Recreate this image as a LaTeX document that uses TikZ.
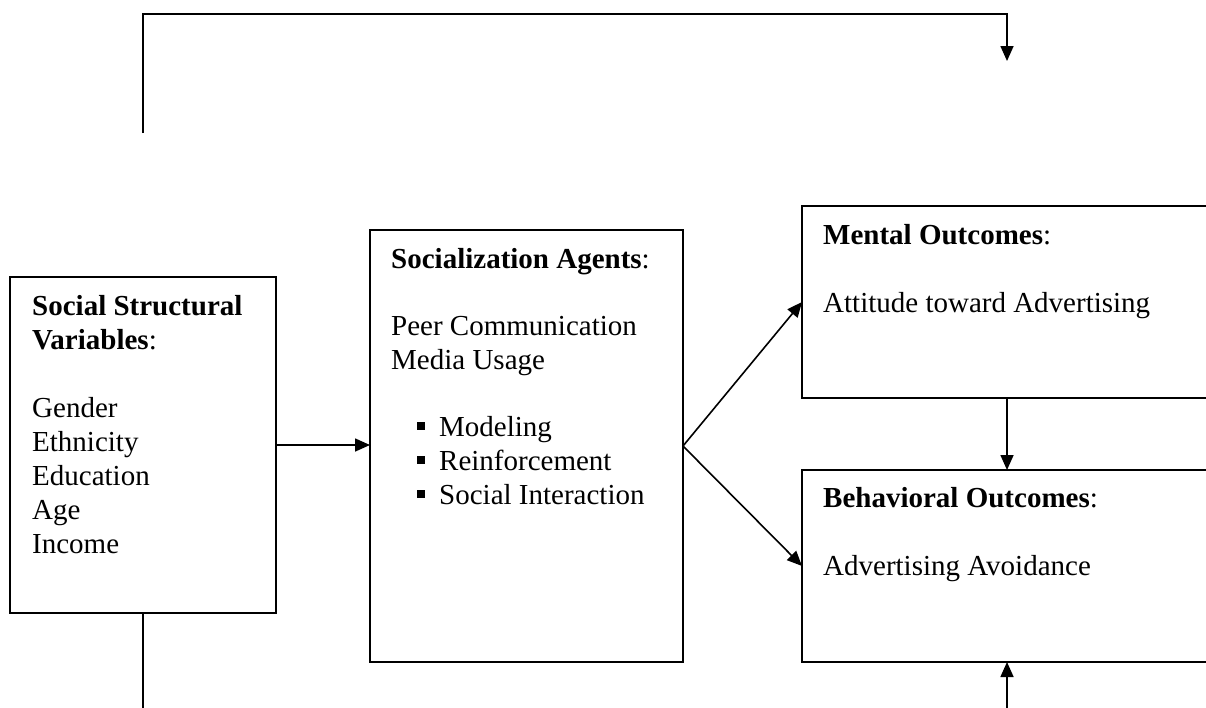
\documentclass[tikz,border=0pt]{standalone}
\usepackage{fontspec}
\setmainfont{Liberation Serif}
\usetikzlibrary{arrows.meta}
\begin{document}
\begin{tikzpicture}[x=1pt,y=-1pt,
  box/.style={draw,line width=1.6pt,anchor=north west,inner sep=0pt,outer sep=0pt},
  txt/.style={anchor=base west,inner sep=0pt,font=\fontsize{29}{34}\selectfont},
  ln/.style={line width=1.6pt},
  arr/.style={line width=1.6pt,-{Triangle[length=15pt,width=13pt]}}]
\useasboundingbox (0,0) rectangle (1206,707);
\clip (0,0) rectangle (1206,707);
% boxes
\node[box,minimum width=266pt,minimum height=336pt] (ssv) at (10,277) {};
\node[box,minimum width=313pt,minimum height=432pt] (sa) at (370,230) {};
\node[box,minimum width=410pt,minimum height=192pt] (mo) at (802,206) {};
\node[box,minimum width=410pt,minimum height=192pt] (bo) at (802,470) {};
% box 1 text
\node[txt] (s1) at (32,315) {\textbf{Social Structural}};
\node[txt] (s2) at (32,349) {\textbf{Variables}:};
\node[txt] (s3) at (32,417) {Gender};
\node[txt] (s4) at (32,451) {Ethnicity};
\node[txt] (s5) at (32,485) {Education};
\node[txt] (s6) at (32,519) {Age};
\node[txt] (s7) at (32,553) {Income};
% box 2 text
\node[txt] (a1) at (391,268) {\textbf{Socialization Agents}:};
\node[txt] (a2) at (391,335) {Peer Communication};
\node[txt] (a3) at (391,369) {Media Usage};
\node[txt] (b1) at (417,436) {\rule[6pt]{8pt}{8pt}};
\node[txt] (b2) at (417,470) {\rule[6pt]{8pt}{8pt}};
\node[txt] (b3) at (417,504) {\rule[6pt]{8pt}{8pt}};
\node[txt] (a4) at (439,436) {Modeling};
\node[txt] (a5) at (439,470) {Reinforcement};
\node[txt] (a6) at (439,504) {Social Interaction};
% box 3 / 4 text
\node[txt] (m1) at (823,244) {\textbf{Mental Outcomes}:};
\node[txt] (m2) at (823,312) {Attitude toward Advertising};
\node[txt] (o1) at (823,507) {\textbf{Behavioral Outcomes}:};
\node[txt] (o2) at (823,575) {Advertising Avoidance};
% connectors
\coordinate (t1) at (143,133);
\coordinate (tc) at (143,14);
\coordinate (t2) at (1007,61);
\coordinate (e1) at (143,712);
\coordinate (e2) at (1007,712);
\draw[arr] (t1) -- (tc) -| (t2);
\draw[arr] (ssv.east) -- (ssv.east -| sa.west);
\draw[arr] (sa.east) -- (mo.west);
\draw[arr] (sa.east) -- (bo.west);
\draw[arr] (mo.south) -- (bo.north);
\draw[ln] (ssv.south) -- (ssv.south |- e1);
\draw[arr] (bo.south |- e2) -- (bo.south);
\end{tikzpicture}
\end{document}
